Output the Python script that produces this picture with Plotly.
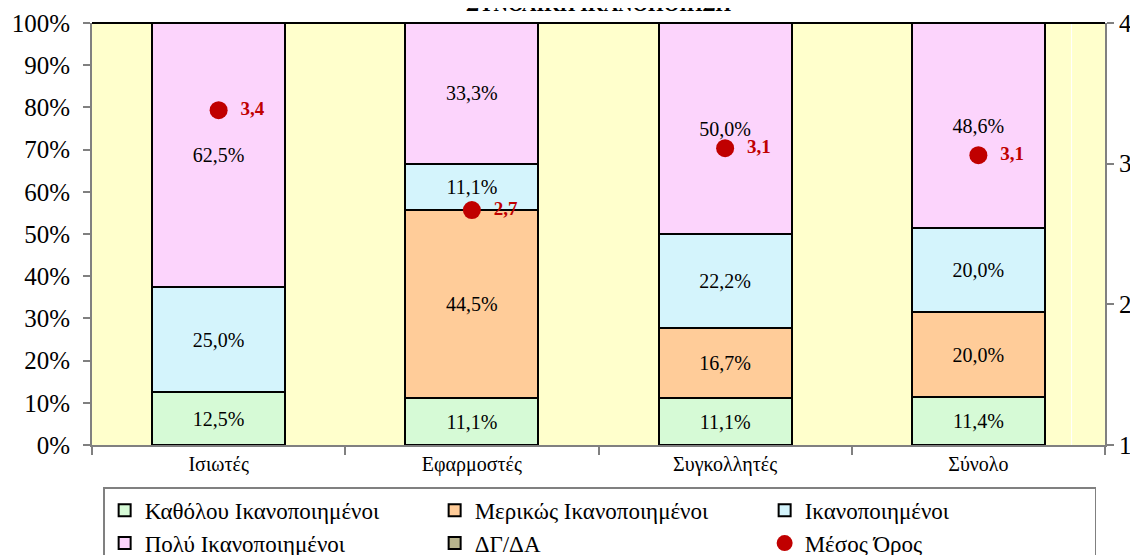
import plotly.graph_objects as go

categories = ["Ισιωτές", "Εφαρμοστές", "Συγκολλητές", "Σύνολο"]
kathOlou = [12.5, 11.1, 11.1, 11.4]
merikos = [None, 44.5, 16.7, 20.0]
ikanop = [25.0, 11.1, 22.2, 20.0]
poly = [62.5, 33.3, 50.0, 48.6]
dgda = [None, None, None, None]
mesos = [3.38, 2.67, 3.11, 3.06]

series = [
    ("Καθόλου Ικανοποιημένοι", kathOlou, "#D6FAD6"),
    ("Μερικώς Ικανοποιημένοι", merikos, "#FFCC99"),
    ("Ικανοποιημένοι", ikanop, "#D4F4FC"),
    ("Πολύ Ικανοποιημένοι", poly, "#FCD4FC"),
    ("ΔΓ/ΔΑ", dgda, "#B8B48C"),
]

FONT = "Liberation Serif"
fig = go.Figure()
for name, vals, col in series:
    fig.add_trace(go.Bar(
        x=categories, y=vals, name=name, width=0.525,
        marker=dict(color=col, line=dict(color="black", width=2)),
        texttemplate="%{y:.1f}%", textposition="inside", insidetextanchor="middle",
        textfont=dict(family=FONT, size=20, color="black"),
        textangle=0, showlegend=True,
    ))

fig.add_trace(go.Scatter(
    x=categories, y=mesos, name="Μέσος Όρος", yaxis="y2",
    mode="markers+text",
    marker=dict(color="#C00000", size=18),
    texttemplate="\u2002%{y:.1f}", textposition="middle right",
    textfont=dict(family=FONT, size=19, color="#C00000", weight="bold"),
))

# page body has an 8px margin, so the figure is offset by 8px
fig.update_layout(
    width=1130, height=547,
    margin=dict(l=84, r=33, t=15, b=110, autoexpand=False),
    barmode="stack",
    separators=",.",
    paper_bgcolor="white",
    plot_bgcolor="#FFFFCC",
    font=dict(family=FONT, color="black"),
    uniformtext=dict(minsize=19, mode="show"),
    xaxis=dict(
        showline=True, linecolor="#808080", linewidth=2, automargin=False,
        ticks="outside", tickson="boundaries", ticklen=8, tickcolor="#808080", tickwidth=2,
        tickfont=dict(size=20), showgrid=False,
    ),
    yaxis=dict(
        range=[0, 100], dtick=10, ticksuffix="%", automargin=False,
        showline=True, linecolor="#808080", linewidth=2,
        ticks="outside", ticklen=7, tickcolor="#808080", tickwidth=2,
        tickfont=dict(size=25), showgrid=False, ticklabelstandoff=8, zeroline=False,
    ),
    yaxis2=dict(
        range=[1, 4], dtick=1, overlaying="y", side="right", automargin=False,
        showline=True, linecolor="#808080", linewidth=2,
        ticks="outside", ticklen=7, tickcolor="#808080", tickwidth=2,
        tickfont=dict(size=25), showgrid=False, zeroline=False,
    ),
    legend=dict(
        orientation="h", x=0.011, xanchor="left", y=-0.1, yanchor="top",
        entrywidth=285, entrywidthmode="pixels", itemwidth=30,
        traceorder="normal",
        font=dict(family=FONT, size=23, color="black"),
        bgcolor="white", bordercolor="#808080", borderwidth=1.5,
        tracegroupgap=0,
    ),
    shapes=[
        dict(type="line", xref="paper", yref="paper", x0=0, x1=1, y0=1, y1=1,
             line=dict(color="black", width=2)),
        dict(type="line", xref="paper", yref="paper", x0=0.967, x1=0.967, y0=0, y1=1,
             line=dict(color="white", width=1), layer="below"),
    ],
    annotations=[
        dict(text="<b>ΣΥΝΟΛΙΚΗ ΙΚΑΝΟΠΟΙΗΣΗ</b>", xref="paper", yref="paper",
             x=0.5, y=1, xanchor="center", yanchor="bottom", yshift=6,
             showarrow=False, font=dict(family=FONT, size=20, color="black")),
    ],
)

fig.write_html("out.html")
